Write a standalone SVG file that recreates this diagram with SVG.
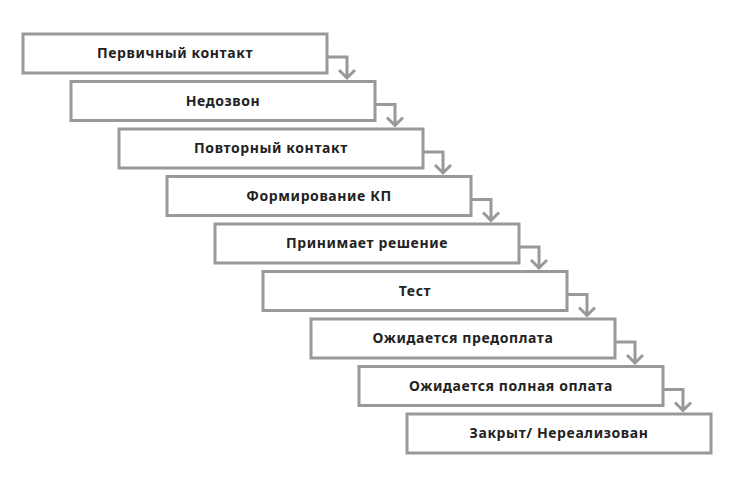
<svg xmlns="http://www.w3.org/2000/svg" width="750" height="490" viewBox="0 0 750 490">
<style>
.b rect{fill:#fff;stroke:#999;stroke-width:3}
.b text{font-family:"Noto Sans",sans-serif;font-weight:700;font-size:14px;fill:#222;text-anchor:middle;letter-spacing:0.6px}
.c path{fill:none;stroke:#999;stroke-width:3}
</style>
<rect width="750" height="490" fill="#fff"/>
<g class="c">
<path d="M327 57H347V78M339 70L347 78L355 70"/>
<path d="M375 104.5H395V125.5M387 117.5L395 125.5L403 117.5"/>
<path d="M423 152H443V173M435 165L443 173L451 165"/>
<path d="M471 199.5H491V220.5M483 212.5L491 220.5L499 212.5"/>
<path d="M519 247H539V268M531 260L539 268L547 260"/>
<path d="M567 294.5H587V315.5M579 307.5L587 315.5L595 307.5"/>
<path d="M615 342H635V363M627 355L635 363L643 355"/>
<path d="M663 389.5H683V410.5M675 402.5L683 410.5L691 402.5"/>
</g>
<g id="n1" class="b"><rect x="23" y="34" width="304" height="39"/><text x="175" y="58">Первичный контакт</text></g>
<g id="n2" class="b"><rect x="71" y="81.5" width="304" height="39"/><text x="223" y="105.5">Недозвон</text></g>
<g id="n3" class="b"><rect x="119" y="129" width="304" height="39"/><text x="271" y="153">Повторный контакт</text></g>
<g id="n4" class="b"><rect x="167" y="176.5" width="304" height="39"/><text x="319" y="200.5">Формирование КП</text></g>
<g id="n5" class="b"><rect x="215" y="224" width="304" height="39"/><text x="367" y="248">Принимает решение</text></g>
<g id="n6" class="b"><rect x="263" y="271.5" width="304" height="39"/><text x="415" y="295.5">Тест</text></g>
<g id="n7" class="b"><rect x="311" y="319" width="304" height="39"/><text x="463" y="343">Ожидается предоплата</text></g>
<g id="n8" class="b"><rect x="359" y="366.5" width="304" height="39"/><text x="511" y="390.5">Ожидается полная оплата</text></g>
<g id="n9" class="b"><rect x="407" y="414" width="304" height="39"/><text x="559" y="438">Закрыт/ Нереализован</text></g>
</svg>
